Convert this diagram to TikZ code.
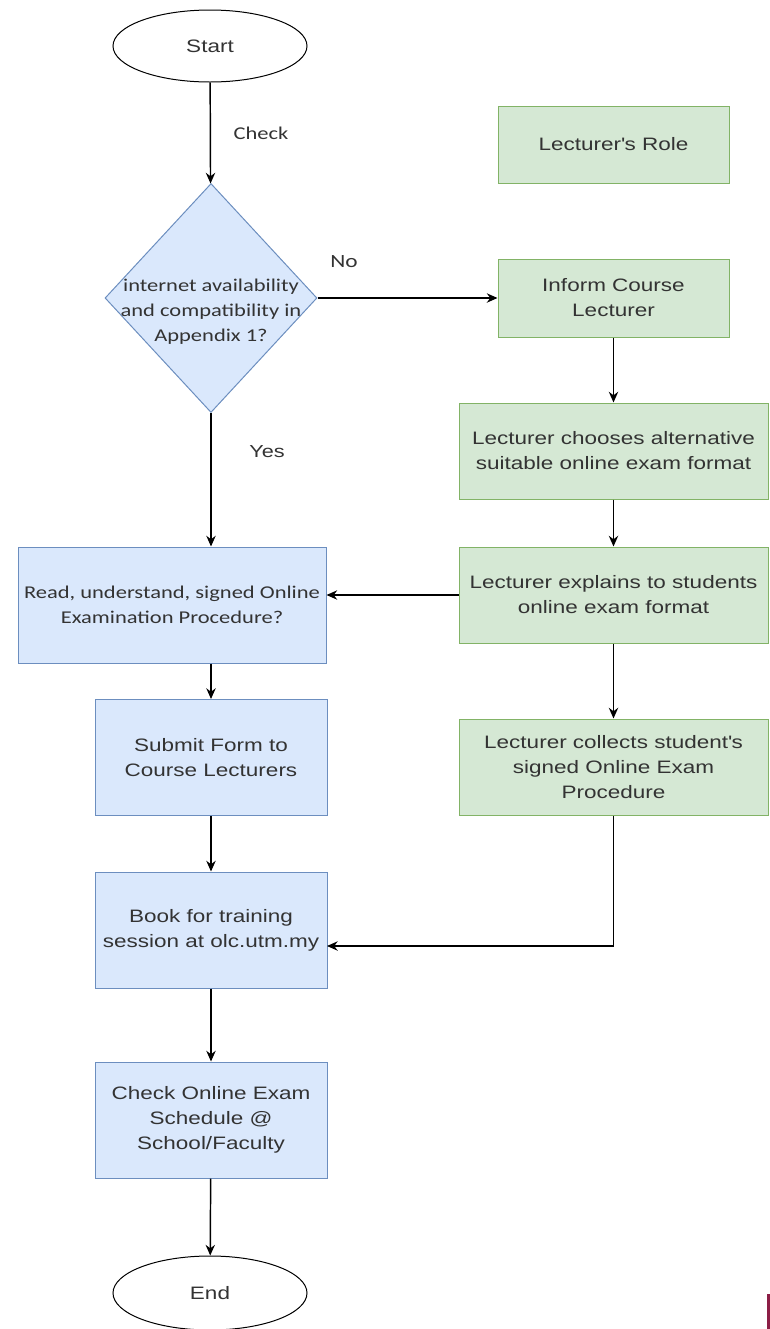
\documentclass[tikz,border=0pt]{standalone}
\usepackage{fontspec}
\setmainfont[FakeStretch=1.25]{Liberation Sans}
\newfontfamily\calfont[FakeStretch=1.25]{Carlito}
\usetikzlibrary{shapes.geometric,arrows.meta}

\definecolor{bluefill}{RGB}{218,232,252}
\definecolor{blueline}{RGB}{108,142,191}
\definecolor{greenfill}{RGB}{213,232,212}
\definecolor{greenline}{RGB}{130,179,102}
\definecolor{txtgrey}{RGB}{51,51,51}
\definecolor{markred}{RGB}{140,30,70}

\newcommand{\boxfont}{\fontsize{13.5}{18.75}\selectfont}

\tikzset{every picture/.style={line width=0.75pt}}
\tikzset{
  terminal/.style={ellipse, draw=black, fill=white, minimum width=145.5pt, minimum height=54pt, font=\boxfont, text=txtgrey},
  decision/.style={diamond, draw=blueline, fill=bluefill, minimum width=159pt, minimum height=171.75pt, inner sep=0pt},
  stepblue/.style={rectangle, draw=blueline, fill=bluefill, minimum width=174pt, minimum height=87pt, align=center, font=\boxfont, text=txtgrey},
  stepgreen/.style={rectangle, draw=greenline, fill=greenfill, minimum width=231.75pt, minimum height=72pt, align=center, font=\boxfont, text=txtgrey},
  flow/.style={-{Stealth[length=8pt,width=7pt]}, line width=1.1pt},
  lbl/.style={inner sep=0.75pt, text=txtgrey}
}

\begin{document}
\begin{tikzpicture}[x=0.75pt,y=0.75pt,yscale=-1,xscale=1]
\useasboundingbox (0,0) rectangle (770,1329);

% Terminals
\node [terminal] (start) at (210,46) {Start};
\node [terminal, minimum height=55.5pt] (end) at (210,1293) {End};

% Decision
\node [decision] (check) at (211,298) {};
\node [lbl, align=center, font=\calfont\boxfont] (checktext) at (211,312) {internet availability\\and compatibility in\\Appendix 1?};

% Student side
\node [stepblue, minimum width=231pt, minimum height=87pt, font=\calfont\boxfont] (read) at (172,605) {Read, understand, signed Online\\Examination Procedure?};
\node [stepblue] (submit) at (211,757.5) {Submit Form to\\Course Lecturers};
\node [stepblue] (book) at (211,930) {Book for training\\session at olc.utm.my};
\node [stepblue] (sched) at (211,1120) {Check Online Exam\\Schedule @\\School/Faculty};

% Lecturer side
\node [stepgreen, minimum width=173.25pt, minimum height=57.75pt] (role) at (613.5,144.5) {Lecturer\textquotesingle s Role};
\node [stepgreen, minimum width=173.25pt, minimum height=58.5pt] (inform) at (613.5,298) {Inform Course\\Lecturer};
\node [stepgreen] (choose) at (613.5,451) {Lecturer chooses alternative\\suitable online exam format};
\node [stepgreen] (explain) at (613.5,595) {Lecturer explains to students\\online exam format};
\node [stepgreen] (collect) at (613.5,767) {Lecturer collects student\textquotesingle s\\signed Online Exam\\Procedure};

\coordinate (bookin) at (327,946);

% Connectors
\draw [flow] (start) -- (check);
\draw [flow] (check.east) -- (inform.west);
\draw [flow] (check.south) -- (check.south |- read.north);
\draw [flow] (inform) -- (choose);
\draw [flow] (choose) -- (explain);
\draw [flow] (explain) -- (collect);
\draw [flow] (explain.west) -- (explain.west -| read.east);
\draw [flow] (read.south -| submit) -- (submit);
\draw [flow] (submit) -- (book);
\draw [flow] (collect.south) |- (bookin);
\draw [flow] (book) -- (sched);
\draw [flow] (sched) -- (end);

% Text Node
\node [lbl, font=\calfont\boxfont] (chklbl) at (261,133) {Check};
% Text Node
\node [lbl, font=\calfont\fontsize{14}{18}\selectfont] (nolbl) at (344,262) {No};
% Text Node
\node [lbl, font=\fontsize{13}{18}\selectfont] (yeslbl) at (267,452) {Yes};

% edge mark
\fill [markred] (767,1294) rectangle (770,1329);

\end{tikzpicture}
\end{document}
